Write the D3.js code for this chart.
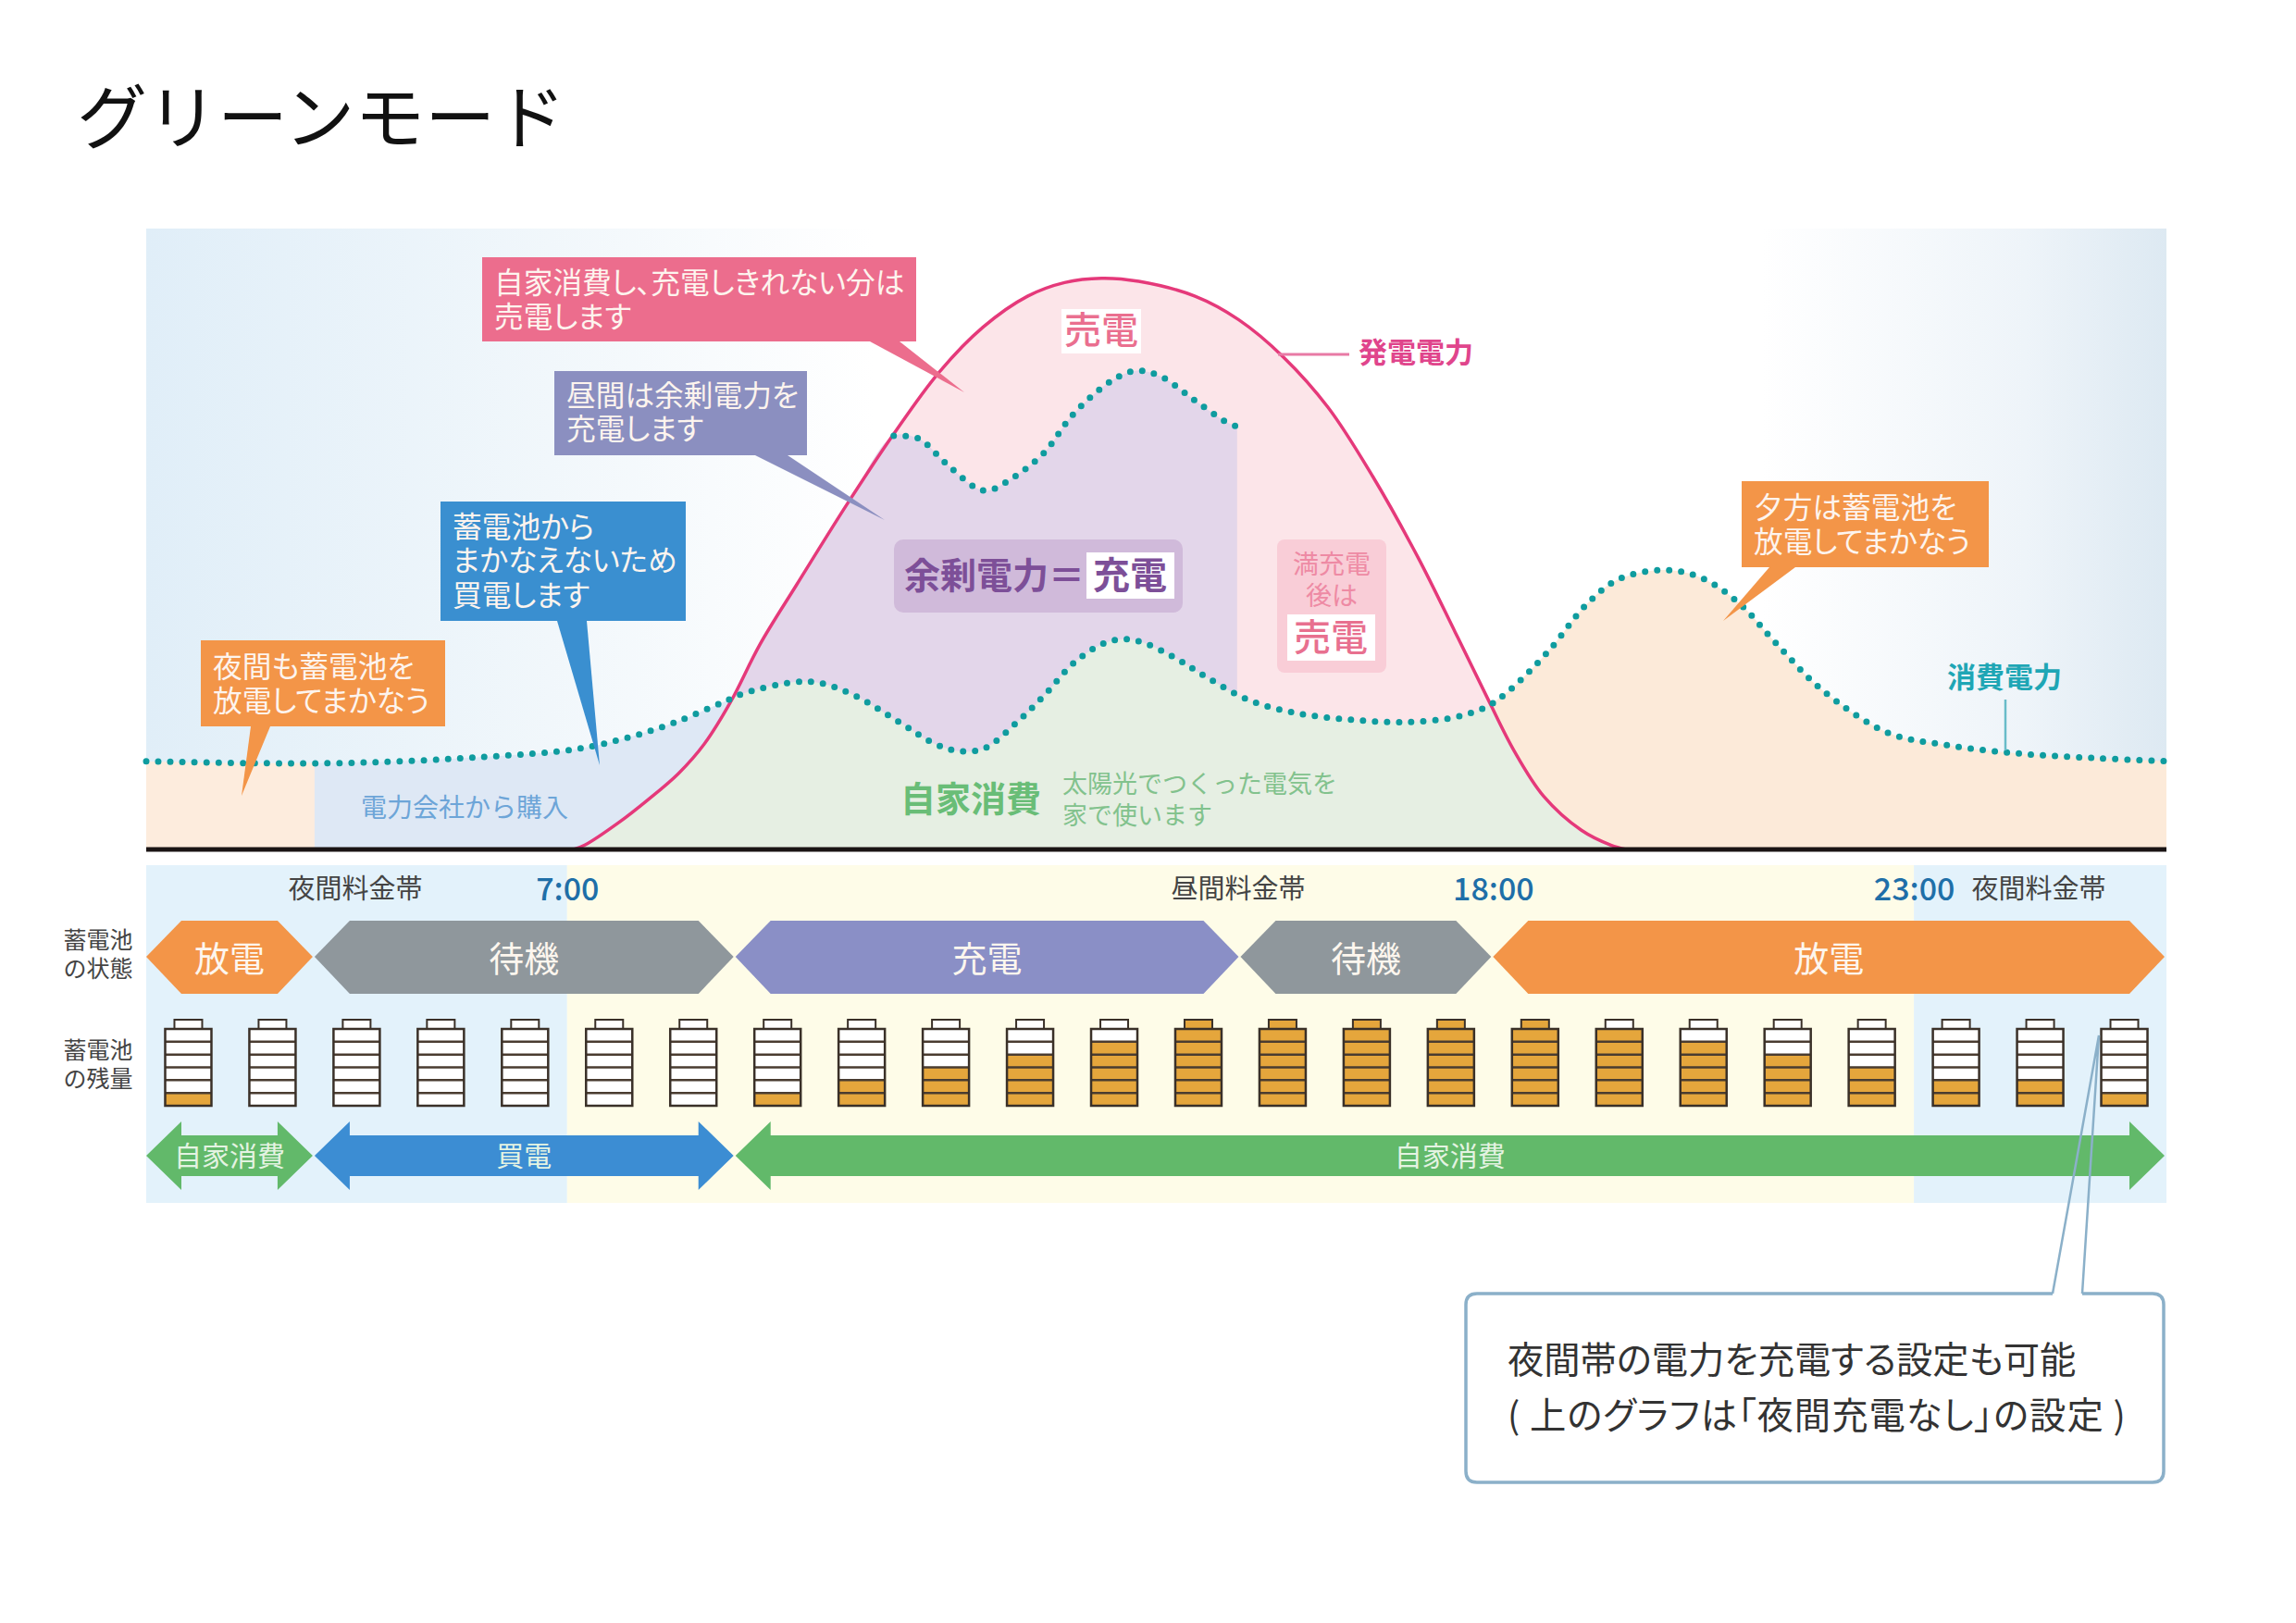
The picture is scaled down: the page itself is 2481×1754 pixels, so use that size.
<!DOCTYPE html>
<html>
<head>
<meta charset="utf-8">
<title>グリーンモード</title>
<script src="https://cdnjs.cloudflare.com/ajax/libs/d3/7.8.5/d3.min.js"></script>
<style>
  html, body { margin: 0; padding: 0; background: #fff; }
  svg { display: block; }
  text { font-family: "Noto Sans CJK JP", "Noto Sans", sans-serif; }
</style>
</head>
<body>
<div id="chart"></div>
<script>
// hours run 2:00 -> 26:00 (2:00 of the next day), power is in % of the plot height
const generationHours = [7.08, 7.21, 7.61, 7.96, 8.32, 8.63, 8.94, 9.29, 9.73, 10.34, 10.88, 11.41, 11.94, 12.47, 12.91, 13.35, 13.79, 14.46, 14.98, 15.51, 16.04, 16.57, 17.11, 17.55, 17.94, 18.25, 18.6, 19.05, 19.4, 19.58];
const generationValues = [0, 0.7, 4.3, 8, 12.2, 17, 23.7, 33, 42.7, 55.9, 66.9, 76.7, 84.1, 89.1, 91.3, 92, 91.5, 89.1, 85.3, 79.3, 71.2, 60.1, 47, 35, 24.2, 15.9, 8.6, 3.1, 0.7, 0];

const consumptionHours = [2, 3.21, 4.61, 6.01, 7.08, 7.69, 8.27, 8.85, 9.11, 9.73, 10.01, 10.43, 10.97, 11.37, 11.68, 11.96, 12.33, 12.66, 13.05, 13.44, 13.74, 14.19, 14.59, 15.11, 15.69, 16.31, 16.93, 17.55, 17.94, 18.21, 18.65, 19.12, 19.49, 20.04, 20.48, 20.92, 21.37, 21.9, 22.69, 23.39, 24.29, 25.17, 26];
const consumptionValues = [14.2, 13.9, 14, 14.9, 16.1, 17.9, 20.4, 23.7, 25.2, 27, 26.8, 24.7, 20.3, 17, 15.8, 16.3, 20.3, 24.7, 30.4, 33.5, 33.7, 31.1, 27.8, 24, 21.9, 20.9, 20.5, 21.3, 23.1, 25.8, 31.8, 39.6, 43.5, 45, 43.7, 39.7, 33.1, 25.8, 18.8, 16.8, 15.4, 14.7, 14.2];

// consumption + charging
const chargeHours = [10.88, 11.17, 11.5, 11.85, 12, 12.29, 12.66, 13.02, 13.48, 13.76, 14.05, 14.43, 14.81, 14.96];
const chargeValues = [66.6, 66.2, 62.2, 58.3, 57.8, 59.8, 63.8, 70.2, 75.6, 77.1, 76.2, 72.6, 69, 68.1];

const tariffTicks = [7, 18, 23];
const tariffBands = [[2, 7], [7, 23], [23, 26]];

const stateNames = ['放電', '待機', '充電', '待機', '放電'];
const stateEdges = [2, 4, 9, 15, 18, 26];
const flowNames = ['自家消費', '買電', '自家消費'];
const flowEdges = [2, 4, 9, 26];

// 0-6 segments filled, 7 = cap filled too
const batteryLevels = [1, 0, 0, 0, 0, 0, 0, 1, 2, 3, 4, 5, 7, 7, 7, 7, 7, 6, 5, 4, 3, 2, 2, 1];

const zip = (a, b) => a.map((d, i) => ({ h: d, v: b[i] }));
const generation = zip(generationHours, generationValues);
const consumption = zip(consumptionHours, consumptionValues);
const charge = zip(chargeHours, chargeValues);

const W = 2481, H = 1754;
const plotLeft = 158, plotRight = 2341, plotTop = 247, base = 918;

const svg = d3.select('#chart').append('svg')
  .attr('width', W)
  .attr('height', H)
  .attr('viewBox', `0 0 ${W} ${H}`);

const x = d3.scaleLinear().domain([2, 26]).range([plotLeft, plotRight]);
const y = d3.scaleLinear().domain([0, 100]).range([base, plotTop]);

const line = d3.line().x(d => x(d.h)).y(d => y(d.v)).curve(d3.curveCatmullRom.alpha(0.5));
const area = d3.area().x(d => x(d.h)).y0(base).y1(d => y(d.v)).curve(d3.curveCatmullRom.alpha(0.5));

const defs = svg.append('defs');
const bg = defs.append('linearGradient').attr('id', 'bgGrad');
[[0, '#e0eef8'], [0.2, '#f1f7fb'], [0.36, '#ffffff'], [0.8, '#ffffff'], [0.93, '#eef4f9'], [1, '#dde9f2']]
  .forEach(s => bg.append('stop').attr('offset', s[0]).attr('stop-color', s[1]));
defs.append('clipPath').attr('id', 'genClip')
  .append('path').attr('d', area(generation));
defs.append('clipPath').attr('id', 'nightClip')
  .append('rect').attr('x', x(2)).attr('y', plotTop).attr('width', x(4) - x(2)).attr('height', base - plotTop);
defs.append('clipPath').attr('id', 'buyClip')
  .append('rect').attr('x', x(4)).attr('y', plotTop).attr('width', x(9.11) - x(4)).attr('height', base - plotTop);

// plot background
svg.append('rect')
  .attr('x', plotLeft).attr('y', plotTop)
  .attr('width', plotRight - plotLeft).attr('height', base - plotTop)
  .attr('fill', 'url(#bgGrad)');

// night fills under the consumption line
svg.append('path')
  .attr('d', area(consumption.filter(d => d.h >= 17.94)))
  .attr('fill', '#fcead9');
svg.append('path')
  .attr('d', area(consumption.filter(d => d.h <= 4.61)))
  .attr('fill', '#fdecdd')
  .attr('clip-path', 'url(#nightClip)');
svg.append('path')
  .attr('d', area(consumption.filter(d => d.h >= 3.21 && d.h <= 9.11)))
  .attr('fill', '#dee8f5')
  .attr('clip-path', 'url(#buyClip)');

// sold power, charged power, self consumption
svg.append('path').attr('d', area(generation)).attr('fill', '#fce5e9');
svg.append('path')
  .attr('d', area(generation.filter(d => d.h < 10.88).concat(charge)))
  .attr('fill', '#e3d6ea');
svg.append('path')
  .attr('d', area(consumption))
  .attr('fill', '#e6efe3')
  .attr('clip-path', 'url(#genClip)');

// text helpers
function label(s, px, py, size, color, anchor, weight) {
  return svg.append('text')
    .attr('x', px).attr('y', py)
    .attr('dy', '0.36em')
    .attr('font-size', size)
    .attr('fill', color)
    .attr('text-anchor', anchor || 'start')
    .attr('font-weight', weight || 400)
    .text(s);
}

// several lines in one text element, lineY holds the centre of each line
function multiline(lines, px, lineY, size, color, anchor) {
  const t = svg.append('text')
    .attr('font-size', size)
    .attr('fill', color)
    .attr('text-anchor', anchor || 'start');
  lines.forEach((s, i) => {
    t.append('tspan')
      .attr('x', px)
      .attr('y', lineY[i])
      .attr('dy', '0.36em')
      .text(s);
  });
  return t;
}

function box(bx, by, bw, bh, color, r) {
  svg.append('rect')
    .attr('x', bx).attr('y', by).attr('width', bw).attr('height', bh)
    .attr('rx', r || 0)
    .attr('fill', color);
}

// white / tinted boxes in the plot
box(1147, 334, 86, 48, '#fff');
label('売電', 1190, 357, 40, '#ea6f8f', 'middle', 500);

box(966, 583, 312, 79, '#d0bada', 10);
label('余剰電力＝', 977, 622, 39, '#7d4f98', 'start', 700);
box(1174, 597, 95, 50, '#fff');
label('充電', 1221, 622, 40, '#7d4f98', 'middle', 700);

box(1380, 583, 118, 144, '#f9cdd7', 8);
multiline(['満充電', '後は'], 1439, [610, 644], 28, '#ee8aa4', 'middle');
box(1391, 664, 95, 50, '#fff');
label('売電', 1438, 689, 40, '#e8708f', 'middle', 500);

label('自家消費', 973, 863, 38, '#69bd77', 'start', 700);
multiline(['太陽光でつくった電気を', '家で使います'], 1148, [847, 881], 27, '#82c28d');
label('電力会社から購入', 390, 873, 28, '#6da5d8');

// lines
svg.append('path')
  .attr('d', line(generation))
  .attr('fill', 'none')
  .attr('stroke', '#e5397a')
  .attr('stroke-width', 3.5);

const dotted = p => p
  .attr('fill', 'none')
  .attr('stroke', '#0f9c9f')
  .attr('stroke-width', 7)
  .attr('stroke-linecap', 'round')
  .attr('stroke-dasharray', '0 13.05');
svg.append('path').attr('d', line(consumption)).call(dotted);
svg.append('path').attr('d', line(charge)).call(dotted);

// leader lines + series names
svg.append('line').attr('x1', 1381).attr('x2', 1458).attr('y1', 383).attr('y2', 383)
  .attr('stroke', '#e87aa5').attr('stroke-width', 3);
label('発電電力', 1468, 381, 31, '#e0458c', 'start', 700);
svg.append('line').attr('x1', 2167).attr('x2', 2167).attr('y1', 756).attr('y2', 811)
  .attr('stroke', '#69bcc9').attr('stroke-width', 2.5);
label('消費電力', 2104, 732, 31, '#1fa6b5', 'start', 700);

// callouts
function callout(lines, color, bx, by, bw, bh, tail, lineY) {
  svg.append('path')
    .attr('d', d3.line()(tail))
    .attr('fill', color);
  box(bx, by, bw, bh, color);
  multiline(lines, bx + 13, lineY, 31.7, '#fdf4ee')
    .style('font-feature-settings', '"palt"');
}
callout(['自家消費し、充電しきれない分は', '売電します'], '#ec6d8d', 521, 278, 469, 91,
  [[940, 369], [972, 369], [1042, 424]], [306, 343]);
callout(['昼間は余剰電力を', '充電します'], '#8b8fc0', 599, 401, 273, 91,
  [[816, 492], [851, 492], [956, 562]], [428, 464]);
callout(['蓄電池から', 'まかなえないため', '買電します'], '#3a8fd0', 476, 542, 265, 129,
  [[602, 671], [634, 671], [648, 827]], [570, 606, 644]);
callout(['夜間も蓄電池を', '放電してまかなう'], '#f39548', 217, 692, 264, 93,
  [[271, 785], [292, 785], [261, 860]], [721, 758]);
callout(['夕方は蓄電池を', '放電してまかなう'], '#f39548', 1882, 520, 267, 93,
  [[1912, 613], [1940, 613], [1862, 671]], [549, 586]);

// baseline
svg.append('line')
  .attr('x1', plotLeft).attr('x2', plotRight).attr('y1', base).attr('y2', base)
  .attr('stroke', '#1a1414').attr('stroke-width', 5);

// tariff bands
const bandTop = 935, bandBottom = 1300;
svg.selectAll('.tariff')
  .data(tariffBands)
  .enter().append('rect')
  .attr('class', 'tariff')
  .attr('x', d => x(d[0]))
  .attr('y', bandTop)
  .attr('width', d => x(d[1]) - x(d[0]))
  .attr('height', bandBottom - bandTop)
  .attr('fill', (d, i) => i === 1 ? '#fefce8' : '#e3f2fb');

// time axis
const axis = svg.append('g')
  .attr('transform', 'translate(0, 949)')
  .call(d3.axisBottom(x).tickValues(tariffTicks).tickFormat(d => `${d}:00`).tickSize(0).tickPadding(0));
axis.select('.domain').remove();
axis.selectAll('text')
  .attr('font-size', 34)
  .attr('font-weight', 500)
  .attr('fill', '#1f6fa8')
  .style('font-family', '"Noto Sans CJK JP", sans-serif');

label('夜間料金帯', 384, 961, 29, '#444', 'middle');
label('昼間料金帯', 1338, 961, 29, '#444', 'middle');
label('夜間料金帯', 2203, 961, 29, '#444', 'middle');

// row titles
multiline(['蓄電池', 'の状態'], 106, [1016, 1047], 25, '#444', 'middle');
multiline(['蓄電池', 'の残量'], 106, [1135, 1166], 25, '#444', 'middle');

// battery state hexagons
const stateColor = { '放電': '#f39548', '待機': '#8f979c', '充電': '#8a8fc6' };
const hexTop = 995, hexBottom = 1074, hexMid = 1034, slant = 38;
stateNames.forEach((name, i) => {
  const a = x(stateEdges[i]), b = x(stateEdges[i + 1]) - 2;
  svg.append('path')
    .attr('d', d3.line()([[a, hexMid], [a + slant, hexTop], [b - slant, hexTop], [b, hexMid], [b - slant, hexBottom], [a + slant, hexBottom]]) + 'Z')
    .attr('fill', stateColor[name]);
  label(name, (a + b) / 2, hexMid + 2, 38, '#fdf6ee', 'middle');
});

// batteries
const batY = d3.scaleLinear().domain([0, 6]).range([1195, 1112]);
const batW = 50, capW = 30, capH = 10;
const batteries = svg.selectAll('.battery')
  .data(batteryLevels)
  .enter().append('g')
  .attr('class', 'battery')
  .attr('transform', (d, i) => `translate(${x(i + 2.5)}, 0)`);

batteries.append('rect')
  .attr('x', -capW / 2).attr('y', batY(6) - capH)
  .attr('width', capW).attr('height', capH)
  .attr('fill', d => d > 6 ? '#e5a63c' : '#fff')
  .attr('stroke', '#3a3028').attr('stroke-width', 2);
batteries.append('rect')
  .attr('x', -batW / 2).attr('y', batY(6))
  .attr('width', batW).attr('height', batY(0) - batY(6))
  .attr('fill', '#fff');
batteries.append('rect')
  .attr('x', -batW / 2).attr('y', d => batY(Math.min(d, 6)))
  .attr('width', batW).attr('height', d => batY(0) - batY(Math.min(d, 6)))
  .attr('fill', '#e5a63c');
batteries.selectAll('.seg')
  .data(d3.range(1, 6))
  .enter().append('line')
  .attr('class', 'seg')
  .attr('x1', -batW / 2).attr('x2', batW / 2)
  .attr('y1', d => batY(d)).attr('y2', d => batY(d))
  .attr('stroke', '#4a3c30').attr('stroke-width', 2.5);
batteries.append('rect')
  .attr('x', -batW / 2).attr('y', batY(6))
  .attr('width', batW).attr('height', batY(0) - batY(6))
  .attr('fill', 'none')
  .attr('stroke', '#3a3028').attr('stroke-width', 2.5);

// power flow arrows
const flowColor = { '自家消費': '#62b96a', '買電': '#3c8dd3' };
const flowMid = 1249, shaft = 22, head = 37, headLen = 38;
flowNames.forEach((name, i) => {
  const a = x(flowEdges[i]), b = x(flowEdges[i + 1]) - 2;
  svg.append('path')
    .attr('d', d3.line()([
      [a, flowMid], [a + headLen, flowMid - head], [a + headLen, flowMid - shaft],
      [b - headLen, flowMid - shaft], [b - headLen, flowMid - head], [b, flowMid],
      [b - headLen, flowMid + head], [b - headLen, flowMid + shaft],
      [a + headLen, flowMid + shaft], [a + headLen, flowMid + head]
    ]) + 'Z')
    .attr('fill', flowColor[name]);
  label(name, (a + b) / 2, flowMid, 30, '#e4f3e2', 'middle');
});

// note box and its pointer
const noteColor = '#8bb0c9';
svg.append('path')
  .attr('d', 'M2218,1398 L2268,1119 L2250,1398')
  .attr('fill', 'none')
  .attr('stroke', noteColor)
  .attr('stroke-width', 2.5);
svg.append('path')
  .attr('d', 'M2218,1398 H1596 Q1584,1398 1584,1410 V1590 Q1584,1602 1596,1602 H2326 Q2338,1602 2338,1590 V1410 Q2338,1398 2326,1398 H2250')
  .attr('fill', 'none')
  .attr('stroke', noteColor)
  .attr('stroke-width', 3.5);
const note = multiline(['夜間帯の電力を充電する設定も可能', '( 上のグラフは「夜間充電なし」の設定 )'], 1629, [1470, 1530], 39.3, '#333')
  .style('font-feature-settings', '"palt"');
note.select('tspan:nth-child(2)').style('letter-spacing', '1px');

// title
label('グリーンモード', 83, 128, 76, '#111');
</script>
</body>
</html>
